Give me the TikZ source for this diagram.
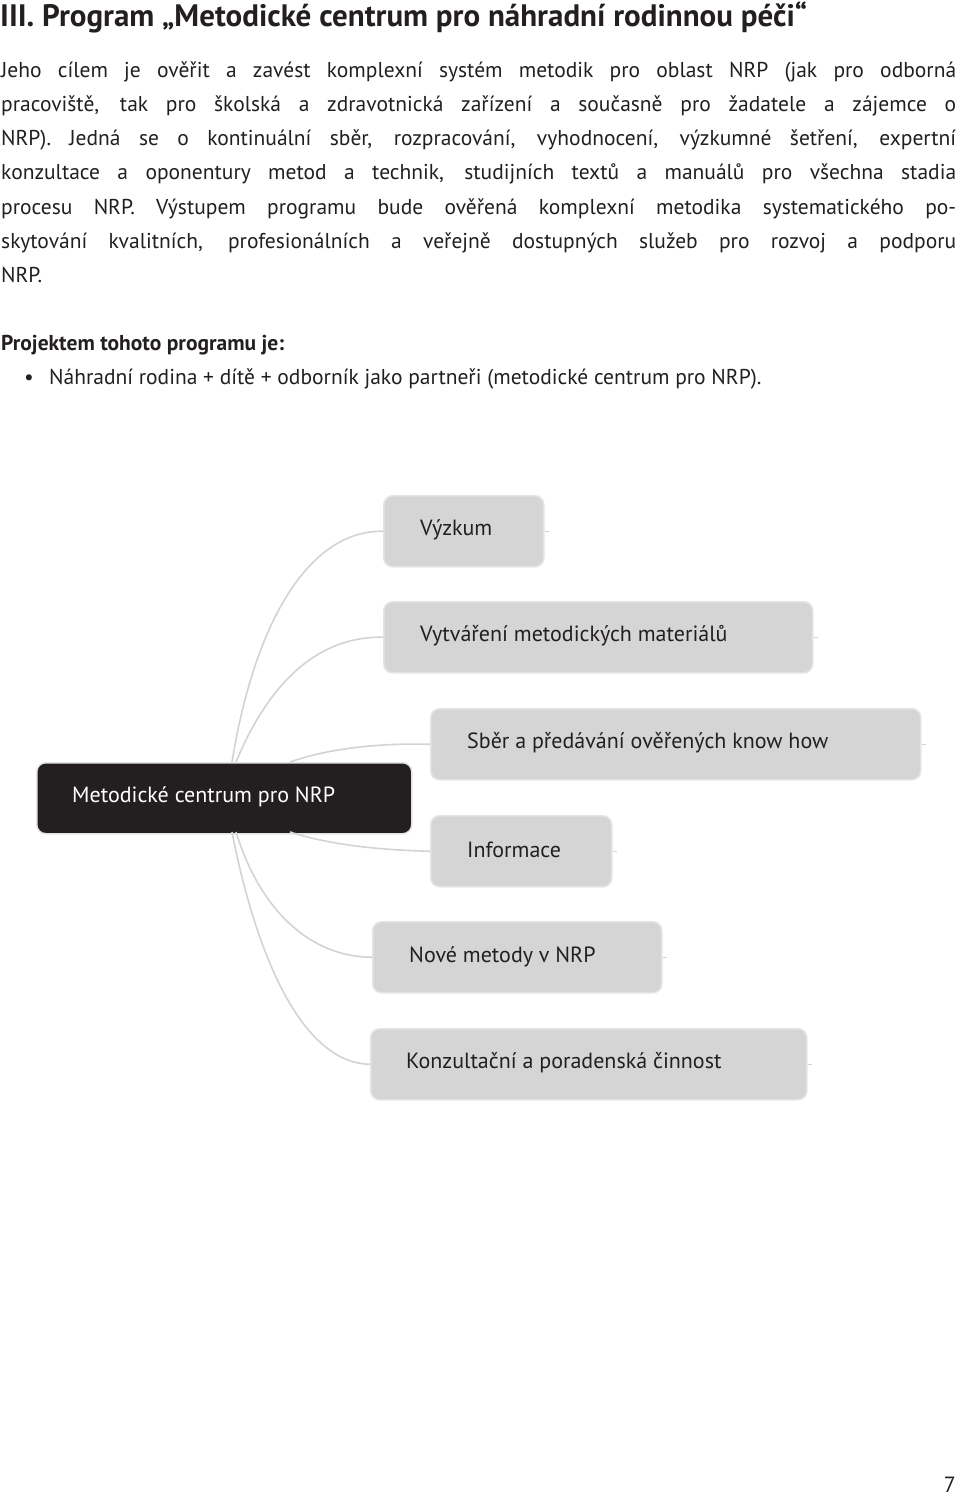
\documentclass[tikz,border=0pt]{standalone}
\usepackage{fontspec}
\setmainfont{PT Sans}
\begin{document}
\begin{tikzpicture}[x=1pt,y=-1pt,
  ln/.style={anchor=base west,inner sep=0pt,font=\fontsize{21.5}{26}\selectfont,text=txt},
  box/.style={draw=boxe,line width=1.5pt,fill=boxf,rounded corners=9pt,anchor=north west,minimum height=71pt,inner sep=0pt,font=\fontsize{22}{26}\selectfont,text=txt},
  conn/.style={draw=linec,line width=1.6pt},
  stub/.style={draw=linec,line width=1pt}]
\definecolor{txt}{HTML}{231F20}
\definecolor{boxf}{HTML}{D5D5D5}
\definecolor{boxe}{HTML}{E4E4E4}
\definecolor{linec}{HTML}{D3D3D3}
\useasboundingbox[fill=white] (0,0) rectangle (960,1498);
\node[anchor=base west,inner sep=0pt,font=\fontsize{31}{36}\bfseries\selectfont,text=txt] (title) at (0,27) {III. Program „Metodické centrum pro náhradní rodinnou péči“};
\node[ln] (l1) at (1,78) {\makebox[955pt][s]{Jeho cílem je ověřit a zavést komplexní systém metodik pro oblast NRP (jak pro odborná}};
\node[ln] (l2) at (1,112) {\makebox[955pt][s]{pracoviště, tak pro školská a zdravotnická zařízení a současně pro žadatele a zájemce o}};
\node[ln] (l3) at (1,146) {\makebox[955pt][s]{NRP). Jedná se o kontinuální sběr, rozpracování, vyhodnocení, výzkumné šetření, expertní}};
\node[ln] (l4) at (1,180) {\makebox[955pt][s]{konzultace a oponentury metod a technik, studijních textů a manuálů pro všechna stadia}};
\node[ln] (l5) at (1,214) {\makebox[955pt][s]{procesu NRP. Výstupem programu bude ověřená komplexní metodika systematického po-}};
\node[ln] (l6) at (1,248) {\makebox[955pt][s]{skytování kvalitních, profesionálních a veřejně dostupných služeb pro rozvoj a podporu}};
\node[ln] (l7) at (1,282) {NRP.};
\node[ln,font=\fontsize{21.5}{26}\bfseries\selectfont] (h) at (1,350) {Projektem tohoto programu je:};
\node[ln] (b) at (24,384) {•};
\node[ln] (bt) at (49,384) {Náhradní rodina + dítě + odborník jako partneři (metodické centrum pro NRP).};

\node[box,fill=txt,draw=boxe,text=white,minimum width=375pt] (c) at (36,762) {};
\node[anchor=west,inner sep=0pt,font=\fontsize{22}{26}\selectfont,text=white] (ct) at (72,797) {Metodické centrum pro NRP};
\node[box,minimum width=160pt] (n1) at (383,495) {};
\node[box,minimum width=429pt] (n2) at (383,601) {};
\node[box,minimum width=490pt] (n3) at (430,708) {};
\node[box,minimum width=181pt] (n4) at (430,815) {};
\node[box,minimum width=289pt] (n5) at (372,921) {};
\node[box,minimum width=436pt] (n6) at (370,1028) {};
\foreach \n/\x/\y/\t in {n1/420/530/Výzkum, n2/420/636/Vytváření metodických materiálů, n3/467/743/Sběr a předávání ověřených know how, n4/467/850/Informace, n5/409/957/Nové metody v NRP, n6/406/1063/Konzultační a poradenská činnost}
  \node[anchor=west,inner sep=0pt,font=\fontsize{22}{26}\selectfont,text=txt] (\n t) at (\x,\y) {\t};
\draw[conn] (232,762) .. controls (255,620) and (310,530) .. (n1.west);
\draw[conn] (236,762) .. controls (270,680) and (320,636) .. (n2.west);
\draw[conn] (290,762) .. controls (330,748) and (380,743) .. (n3.west);
\draw[conn] (290,832) .. controls (330,845) and (380,850) .. (n4.west);
\draw[conn] (236,832) .. controls (260,910) and (310,957) .. (n5.west);
\draw[conn] (232,832) .. controls (255,950) and (300,1063) .. (n6.west);
\foreach \n in {n1,n2,n3,n4,n5,n6} \draw[stub] (\n.east) -- ++(4,0);
\node[anchor=base east,inner sep=0pt,font=\fontsize{22}{26}\selectfont,text=txt] (pg) at (956,1492) {7};
\end{tikzpicture}
\end{document}
